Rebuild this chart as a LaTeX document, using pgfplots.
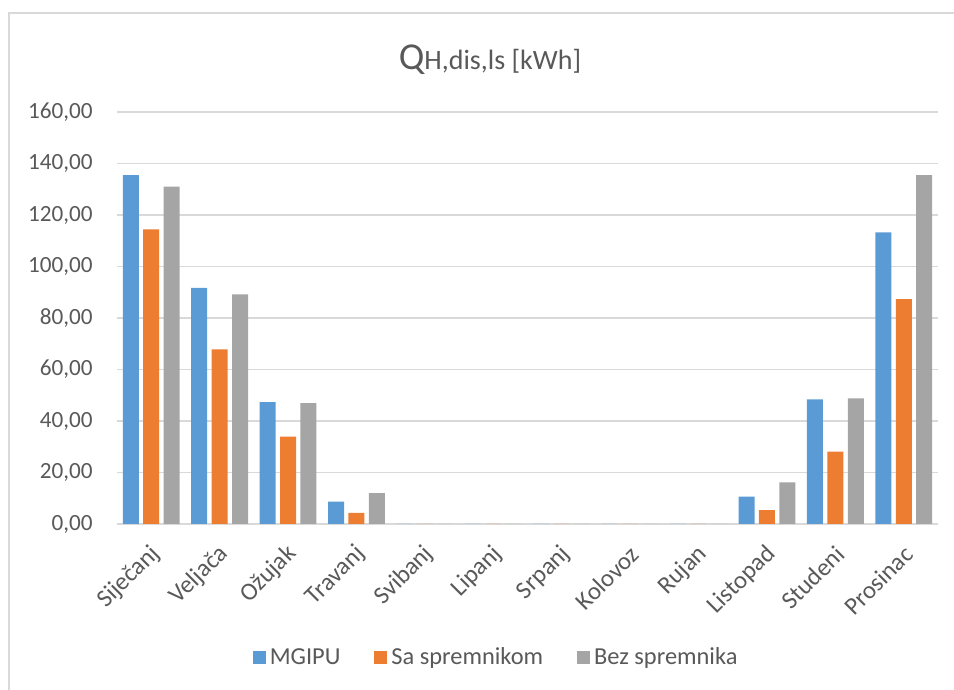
\documentclass[border=0pt]{standalone}
\usepackage{fontspec}
\setmainfont{Carlito}
\usepackage{pgfplots}
\pgfplotsset{compat=1.18}
\definecolor{cblue}{HTML}{5B9BD5}
\definecolor{corange}{HTML}{ED7D31}
\definecolor{cgray}{HTML}{A5A5A5}
\definecolor{txt}{HTML}{595959}
\definecolor{gridc}{HTML}{D9D9D9}
\begin{document}
\begin{tikzpicture}
\useasboundingbox (-58.5pt,-83pt) rectangle (418.5pt,262pt);
\draw[gridc, line width=0.75pt] (-54pt,-90pt) -- (-54pt,255.5pt) -- (425pt,255.5pt);
\begin{axis}[
  at={(0,0)}, anchor=south west,
  scale only axis, width=410.5pt, height=206pt,
  xmin=-0.5, xmax=11.5, ymin=0, ymax=160,
  ytick={0,20,...,160},
  xtick={0,...,11},
  xticklabels={Siječanj,Veljača,Ožujak,Travanj,Svibanj,Lipanj,Srpanj,Kolovoz,Rujan,Listopad,Studeni,Prosinac},
  ymajorgrids, grid style={gridc, line width=0.75pt},
  axis line style={draw=none},
  major tick length=0pt, tick style={draw=none},
  yticklabel style={inner sep=0pt, xshift=-12pt, font=\fontsize{11.6}{13}\selectfont, text=txt},
  xticklabel style={inner sep=0pt, xshift=2.5pt, yshift=-13pt, rotate=45, anchor=east, font=\fontsize{12.4}{14}\selectfont, text=txt},
  /pgf/number format/.cd, use comma, fixed, fixed zerofill, precision=2, 1000 sep={}, assume math mode=true,
  /pgfplots/.cd,
  ybar, bar width=8pt,
  legend style={at={(0.463,-0.325)}, anchor=center, draw=none, legend columns=3,
    font=\fontsize{12.2}{14}\selectfont, text=txt,
    /tikz/every even column/.append style={column sep=15pt}},
  legend image code/.code={\fill[#1] (0pt,-3.25pt) rectangle (6.5pt,3.25pt);},
]
\addplot[fill=cblue, draw=none, bar shift=-10.2pt] coordinates {(0,135.5) (1,91.7) (2,47.3) (3,8.7) (4,0) (5,0) (6,0) (7,0) (8,0) (9,10.6) (10,48.4) (11,113.3)};
\addplot[fill=corange, draw=none, bar shift=0pt] coordinates {(0,114.4) (1,67.8) (2,33.9) (3,4.3) (4,0) (5,0) (6,0) (7,0) (8,0) (9,5.4) (10,28.1) (11,87.3)};
\addplot[fill=cgray, draw=none, bar shift=10.2pt] coordinates {(0,131.0) (1,89.2) (2,46.9) (3,12.0) (4,0) (5,0) (6,0) (7,0) (8,0) (9,16.2) (10,48.8) (11,135.5)};
\legend{MGIPU,Sa spremnikom,Bez spremnika}
\end{axis}
\node[text=txt, anchor=base] at (186.5pt,227pt) {{\fontsize{19}{22}\selectfont Q}{\fontsize{14}{16}\selectfont H,dis,ls [kWh]}};
\end{tikzpicture}
\end{document}
